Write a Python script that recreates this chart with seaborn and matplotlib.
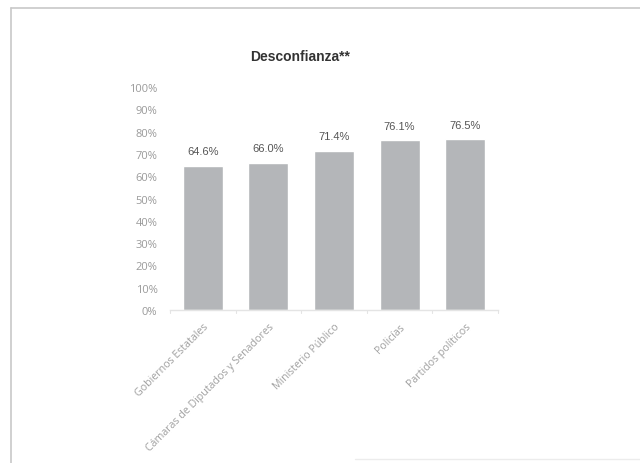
import numpy as np
import pandas as pd
import matplotlib
matplotlib.use('Agg')
import matplotlib.pyplot as plt
import seaborn as sns
from matplotlib.lines import Line2D

# --- Datos ---
instituciones = ['Gobiernos Estatales', 'Cámaras de Diputados y Senadores',
                 'Ministerio Público', 'Policías', 'Partidos políticos']
desconfianza = [64.6, 66.0, 71.4, 76.1, 76.5]
ticks_y = [0, 10, 20, 30, 40, 50, 60, 70, 80, 90, 100]

df = pd.DataFrame({'institucion': instituciones, 'valor': desconfianza})

sns.set_theme(style="white")
plt.rcParams['font.family'] = ['Open Sans', 'DejaVu Sans']

fig = plt.figure(figsize=(6.4, 4.64), dpi=100)
ax = fig.add_axes([0.2656, 0.3297, 0.5125, 0.4806])

sns.barplot(data=df, x='institucion', y='valor', color='#b4b6b9',
            saturation=1, width=0.61, ax=ax)

for p, v in zip(ax.patches, desconfianza):
    ax.annotate(f'{v:.1f}%', (p.get_x() + p.get_width() / 2., p.get_height()),
                ha='center', va='bottom', xytext=(0, 7), textcoords='offset points',
                fontsize=8, color='#555555', family=['Liberation Sans', 'DejaVu Sans'])

ax.set_ylim(0, 100)
ax.set_yticks(ticks_y)
ax.set_yticklabels([f'{t}%' for t in ticks_y], fontsize=8, color='#9a9a9a')
ax.set_xlim(-0.5, len(instituciones) - 0.5)
ax.set_xticks(range(len(instituciones)))
ax.set_xticklabels(instituciones, rotation=45, ha='right', rotation_mode='anchor',
                   fontsize=7.7, color='#a0a0a0')
ax.set_xlabel(None)
ax.set_ylabel(None)
ax.tick_params(axis='y', length=0, pad=9)
ax.tick_params(axis='x', length=0, pad=8)

for s in ['top', 'right', 'left']:
    ax.spines[s].set_visible(False)
ax.spines['bottom'].set_color('#e4e4e4')
ax.spines['bottom'].set_linewidth(1.0)

# marcas pequeñas entre categorias
for xb in np.arange(-0.5, len(instituciones), 1.0):
    ax.plot([xb, xb], [0, -1.5], color='#e4e4e4', lw=0.8, clip_on=False)

fig.text(300 / 640, 1 - 57 / 464, 'Desconfianza**', ha='center', va='center',
         fontsize=10, weight='bold', color='#333333',
         family=['Liberation Sans', 'DejaVu Sans'])

# marco de la hoja escaneada
fig.add_artist(Line2D([11 / 640, 11 / 640], [0, 1 - 9 / 464], color='#c8c8c8', lw=1.2))
fig.add_artist(Line2D([11 / 640, 1], [1 - 9 / 464, 1 - 9 / 464], color='#c8c8c8', lw=1.2))
fig.add_artist(Line2D([355 / 640, 1], [4 / 464, 4 / 464], color='#ececec', lw=1.0))

plt.savefig('out.png', dpi=100)
plt.close()
